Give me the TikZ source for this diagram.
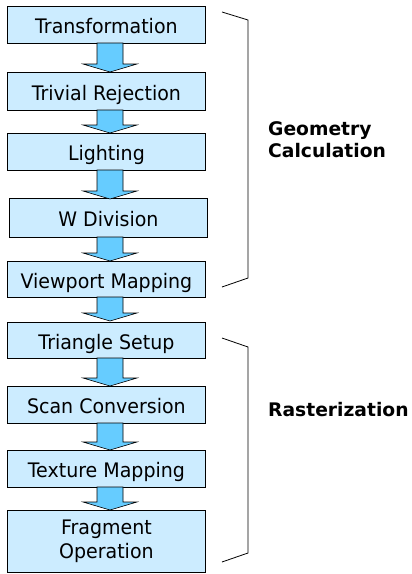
\documentclass[tikz,border=0pt]{standalone}
\usepackage{fontspec}
\setmainfont{DejaVu Sans}
\newfontfamily\boxfont[FakeStretch=0.95]{DejaVu Sans}
\newfontfamily\labfont{DejaVu Sans Bold}
\definecolor{boxfill}{HTML}{CCECFF}
\definecolor{arrowfill}{HTML}{66CCFF}
\tikzset{
  stagebox/.style={draw=black, line width=0.8pt, fill=boxfill, inner sep=0pt,
    font=\boxfont\fontsize{20}{24}\selectfont, align=center,
    minimum width=198pt},
  oneline/.style={text height=18pt, text depth=0pt},
  twoline/.style={},
  shadowbox/.style={fill=black!45},
  flowarrow/.style={draw=black, line width=0.6pt, fill=arrowfill},
  bracketline/.style={draw=black, line width=0.8pt},
  grouplabel/.style={font=\labfont\fontsize{18.7}{22}\selectfont, align=left, anchor=west, inner sep=0pt}
}
\newcommand{\stage}[6][oneline]{% style, name, x1, y1, x2, y2 ; text via next arg
  \fill[shadowbox] (#3+1.2,#4+1.2) rectangle (#5+1.2,#6+1.2);
  \node[stagebox, #1, minimum width=#5-#3, minimum height=#6-#4, anchor=north west] (#2) at (#3,#4)}
\newcommand{\flowarr}[3]{% x-center, ytop, ytip
  \draw[flowarrow] (#1-13,#2) -- (#1+13,#2) -- (#1+13,#3-8) -- (#1+27,#3-8) -- (#1,#3) -- (#1-27,#3-8) -- (#1-13,#3-8) -- cycle;}
\begin{document}
\begin{tikzpicture}[x=1pt,y=-1pt]
\useasboundingbox (0,0) rectangle (412,574);
\fill[white] (0,0) rectangle (412,574);
% boxes
\stage{b1}{7}{6}{205}{43} {Transformation};
\stage{b2}{7}{72}{205}{110} {Trivial Rejection};
\stage{b3}{7}{133}{205}{170} {Lighting};
\stage{b4}{9}{198}{207}{237} {W Division};
\stage{b5}{7}{261}{205}{297} {Viewport Mapping};
\stage{b6}{7}{322}{205}{358} {Triangle Setup};
\stage{b7}{7}{386}{205}{423} {Scan Conversion};
\stage{b8}{7}{450}{205}{487} {Texture Mapping};
\stage[twoline]{b9}{7}{510}{205}{572} {Fragment\\Operation};
% arrows
\flowarr{110}{43}{72}
\flowarr{110}{110}{133}
\flowarr{110}{170}{199}
\flowarr{110}{237}{261}
\flowarr{110}{297}{321}
\flowarr{110}{358}{386}
\flowarr{110}{423}{450}
\flowarr{110}{487}{510}
% brackets
\coordinate (g1) at (222,12);
\coordinate (g2) at (248,20);
\coordinate (g3) at (248,278);
\coordinate (g4) at (222,287);
\draw[bracketline] (g1) -- (g2) -- (g3) -- (g4);
\coordinate (r1) at (222,338);
\coordinate (r2) at (248,347);
\coordinate (r3) at (248,553);
\coordinate (r4) at (222,562);
\draw[bracketline] (r1) -- (r2) -- (r3) -- (r4);
\node[grouplabel] (geo) at (268,140) {Geometry\\Calculation};
\node[grouplabel] (ras) at (268,410) {Rasterization};
\end{tikzpicture}
\end{document}
